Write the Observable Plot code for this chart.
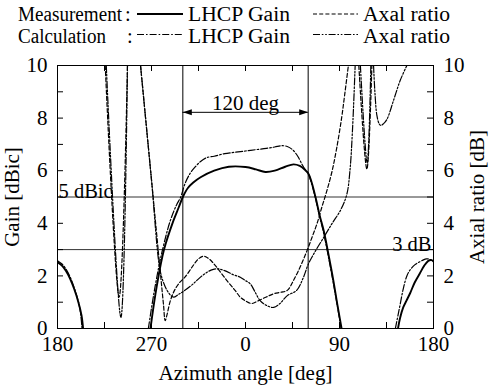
<!DOCTYPE html>
<html><head><meta charset="utf-8">
<script src="https://cdn.jsdelivr.net/npm/d3@7"></script>
<script src="https://cdn.jsdelivr.net/npm/@observablehq/plot@0.6"></script>
<style>
html,body{margin:0;padding:0;background:#fff;overflow:hidden;}
#wrap{position:relative;width:489px;height:388px;font-family:"Liberation Serif","Times New Roman",serif;}
#legend{display:block;}
#chart svg{display:block;}
</style></head><body>
<div id="wrap"><svg id="legend" width="489" height="52"></svg><div id="chart"></div></div>
<script>
// ---- axis ticks / labels ----
const xTickValues = [-180, -135, -90, -45, 0, 45, 90, 135, 180];
const xLabelValues = [-180, -90, 0, 90, 180];
const xLabelTexts = ["180", "270", "0", "90", "180"];
const yTickValues = [0, 1, 2, 3, 4, 5, 6, 7, 8, 9, 10];
const yLabelValues = [0, 2, 4, 6, 8, 10];

// ---- annotations ----
const refLevels = [3, 5];
const beamEdges = [-60, 60];
const arrowLevel = 8.22;

// ---- series: [azimuth deg, value]; null = break ----
const measGain = [
  [-180, 2.52], [-176, 2.4], [-172, 2.2], [-168, 1.9], [-164, 1.5], [-160, 1.0], [-157, 0.5], [-155.5, 0], null,
  [-91, 0], [-85, 1.6], [-78, 3.0], [-69, 4.1], [-64, 4.6], [-60, 5.0], [-55, 5.35], [-50, 5.55], [-43, 5.75],
  [-30, 6.0], [-16, 6.15], [0, 6.14], [10, 6.05], [19, 5.95], [28, 6.0], [38, 6.15], [46, 6.24], [52, 6.18],
  [57, 6.03], [60, 5.9], [63, 5.6], [67, 5.0], [71, 4.3], [75, 3.7], [80, 2.7], [84, 1.85], [88, 0.9], [92, 0], null,
  [146, 0], [148, 0.4], [151, 0.8], [154, 1.05], [157.7, 1.35], [162, 1.75], [167, 2.1], [171, 2.38], [175, 2.57], [178, 2.6], [180, 2.55]
];
const calcGain = [
  [-180, 2.58], [-176, 2.46], [-172, 2.27], [-168, 1.97], [-164, 1.55], [-160, 1.02], [-158, 0.6], [-156.5, 0], null,
  [-93, 0], [-87, 1.5], [-80, 2.9], [-72, 4.1], [-66, 4.7], [-62, 5.0], [-58, 5.5], [-53, 5.9], [-48, 6.15],
  [-43, 6.35], [-37, 6.5], [-30, 6.55], [-20, 6.65], [-10, 6.7], [0, 6.75], [10, 6.8], [20, 6.85], [28, 6.9],
  [35, 6.95], [40, 6.92], [45, 6.8], [50, 6.55], [54, 6.25], [57, 6.05], [60, 5.9], [63, 5.55], [67, 4.95],
  [71, 4.25], [75, 3.6], [80, 2.6], [84, 1.75], [88, 0.85], [91.5, 0], null,
  [143.5, 0], [146, 0.5], [148, 0.9], [151, 1.5], [154.5, 2.0], [158, 2.25], [162, 2.42], [166, 2.52], [170, 2.6], [173, 2.65], [177, 2.62], [180, 2.55]
];
const measAR = [
  [-134.3, 10], [-121, 1.2], [-113, 10], null,
  [-100.5, 10], [-90, 5.65], [-81.7, 2.2], [-78.5, 0.9], [-76.9, 0.3], [-75, 0.55], [-72, 1.05], [-68, 1.45],
  [-63, 1.75], [-58, 1.95], [-50, 2.4], [-45, 2.65], [-40, 2.75], [-35, 2.65], [-28, 2.35], [-18, 1.83],
  [-10, 1.45], [-5, 1.19], [0, 1.05], [6, 0.95], [12, 1.05], [20, 1.2], [27, 1.32], [34, 1.38], [40, 1.45],
  [46, 1.83], [53, 2.4], [59, 2.97], [64, 3.5], [68.4, 3.98], [73, 4.6], [78, 5.25], [83, 6.0], [87.5, 6.9],
  [92, 8.0], [95, 8.9], [98.5, 10], null,
  [108.5, 10], [116.2, 6.06], [121, 10]
];
const calcAR = [
  [-133.3, 10], [-119.3, 0.42], [-113, 10], null,
  [-100.5, 10], [-90, 5.65], [-81.7, 2.2], [-77, 1.6], [-72.5, 1.3], [-68.9, 1.19], [-64, 1.3], [-58.4, 1.44],
  [-50, 1.7], [-46.5, 1.83], [-40, 2.05], [-33, 2.22], [-27, 2.27], [-20, 2.2], [-12, 2.05], [-5, 1.95],
  [0, 1.82], [4.5, 1.7], [9, 1.4], [14, 1.06], [20, 0.88], [27, 0.8], [33, 0.95], [40, 1.25], [49, 1.45],
  [55, 1.9], [60.3, 2.46], [67, 2.95], [75, 3.47], [83, 4.0], [91, 4.5], [97, 5.1], [100, 6.0], [102.5, 7.6], [105, 10], null,
  [110, 10], [116.5, 6.3], [120, 10], null,
  [122.6, 10], [124, 8.92], [125.8, 8.1], [128, 7.78], [129.6, 7.72], [132, 7.78], [135.4, 7.95], [141.7, 8.67], [148.1, 9.43], [154.5, 10]
];

const toRows = (arr) => arr.map(p => p ? {x: p[0], y: p[1]} : {x: NaN, y: NaN});

// ---- styles ----
const DASH_MEAS_AR = "4,2.2";
const DASH_CALC_GAIN = "7,2,1.6,2";
const DASH_CALC_AR = "7,1.8,1.6,1.8,1.6,1.8";

// ---- legend ----
const legendRows = [
  {name: "Measurement", gainDash: null, gainWidth: 1.8, arDash: DASH_MEAS_AR, nameLen: 104, colonX: 125},
  {name: "Calculation", gainDash: DASH_CALC_GAIN, gainWidth: 1.2, arDash: DASH_CALC_AR, nameLen: 88, colonX: 127}
];
const rowBase = [21, 43], rowLine = [14, 34.5];
const leg = d3.select("#legend");
legendRows.forEach((r, i) => {
  const g = leg.append("g").attr("font-family", "Liberation Serif, Times New Roman, serif").attr("font-size", 20.5).attr("fill", "#000");
  g.append("text").attr("x", 18).attr("y", rowBase[i]).attr("textLength", r.nameLen).attr("lengthAdjust", "spacingAndGlyphs").text(r.name);
  g.append("text").attr("x", r.colonX).attr("y", rowBase[i]).text(":");
  g.append("line").attr("x1", 137).attr("x2", 183).attr("y1", rowLine[i]).attr("y2", rowLine[i])
    .attr("stroke", "#000").attr("stroke-width", r.gainWidth).attr("stroke-dasharray", r.gainDash);
  g.append("text").attr("x", 188).attr("y", rowBase[i]).attr("textLength", 102).attr("lengthAdjust", "spacingAndGlyphs").text("LHCP Gain");
  g.append("line").attr("x1", 313).attr("x2", 358).attr("y1", rowLine[i]).attr("y2", rowLine[i])
    .attr("stroke", "#000").attr("stroke-width", 1.2).attr("stroke-dasharray", r.arDash);
  g.append("text").attr("x", 363).attr("y", rowBase[i]).attr("textLength", 87).attr("lengthAdjust", "spacingAndGlyphs").text("Axal ratio");
});

// ---- chart ----
const W = 489, H = 336, MT = 13, MB = 60, ML = 57, MR = 56;
const innerH = H - MT - MB, innerW = W - ML - MR;
const arrowHead = {
  draw(context) { context.moveTo(0, 0); context.lineTo(-9, -3); context.lineTo(-9, 3); context.closePath(); }
};

const chart = Plot.plot({
  width: W, height: H,
  marginTop: MT, marginBottom: MB, marginLeft: ML, marginRight: MR,
  style: {fontFamily: "Liberation Serif, Times New Roman, serif", fontSize: "21px", color: "#000", background: "#fff", overflow: "visible"},
  x: {domain: [-180, 180]},
  y: {domain: [0, 10]},
  marks: [
    Plot.ruleY(refLevels, {stroke: "#333", strokeWidth: 1}),
    Plot.ruleX(beamEdges, {stroke: "#000", strokeWidth: 1}),
    Plot.line(toRows(calcAR), {x: "x", y: "y", curve: "catmull-rom", stroke: "#000", strokeWidth: 1.2, strokeDasharray: DASH_CALC_AR, clip: true}),
    Plot.line(toRows(measAR), {x: "x", y: "y", curve: "catmull-rom", stroke: "#000", strokeWidth: 1.2, strokeDasharray: DASH_MEAS_AR, clip: true}),
    Plot.line(toRows(calcGain), {x: "x", y: "y", curve: "catmull-rom", stroke: "#000", strokeWidth: 1.2, strokeDasharray: DASH_CALC_GAIN, clip: true}),
    Plot.line(toRows(measGain), {x: "x", y: "y", curve: "catmull-rom", stroke: "#000", strokeWidth: 1.9, clip: true}),
    Plot.tickX(xTickValues, {stroke: "#000", insetTop: innerH - 6}),
    Plot.tickX(xTickValues, {stroke: "#000", insetBottom: innerH - 6}),
    Plot.tickY(yTickValues, {stroke: "#000", insetRight: innerW - 6}),
    Plot.tickY(yTickValues, {stroke: "#000", insetLeft: innerW - 6}),
    Plot.frame({stroke: "#000", strokeWidth: 1}),
    Plot.axisX(xLabelValues, {anchor: "bottom", tickSize: 0, tickPadding: 8,
      tickFormat: d => xLabelTexts[xLabelValues.indexOf(d)],
      label: "Azimuth angle [deg]", labelAnchor: "center", labelOffset: 51, labelArrow: "none"}),
    Plot.axisY(yLabelValues, {anchor: "left", tickSize: 0, tickPadding: 10,
      label: "Gain [dBic]", labelAnchor: "center", labelOffset: 53, labelArrow: "none"}),
    Plot.axisY(yLabelValues, {anchor: "right", tickSize: 0, tickPadding: 10,
      label: "Axial ratio [dB]", labelAnchor: "center", labelOffset: 50, labelArrow: "none"}),
    Plot.text(["5 dBic"], {x: -180, y: 5, textAnchor: "start", lineAnchor: "bottom", dx: 1, dy: 1, fontSize: 20.5}),
    Plot.text(["3 dB"], {x: 180, y: 3, textAnchor: "end", lineAnchor: "bottom", dx: -2, dy: 1, fontSize: 20.5}),
    Plot.ruleY([arrowLevel], {x1: beamEdges[0], x2: beamEdges[1], stroke: "#000", strokeWidth: 1}),
    Plot.dot(beamEdges, {x: d => d, y: arrowLevel, symbol: arrowHead, r: 4, rotate: d => d < 0 ? 180 : 0, fill: "#000", stroke: "none"}),
    Plot.text(["120 deg"], {x: 0, y: arrowLevel, lineAnchor: "bottom", dy: -2, fontSize: 21})
  ]
});
document.getElementById("chart").appendChild(chart);
</script>
</body></html>
